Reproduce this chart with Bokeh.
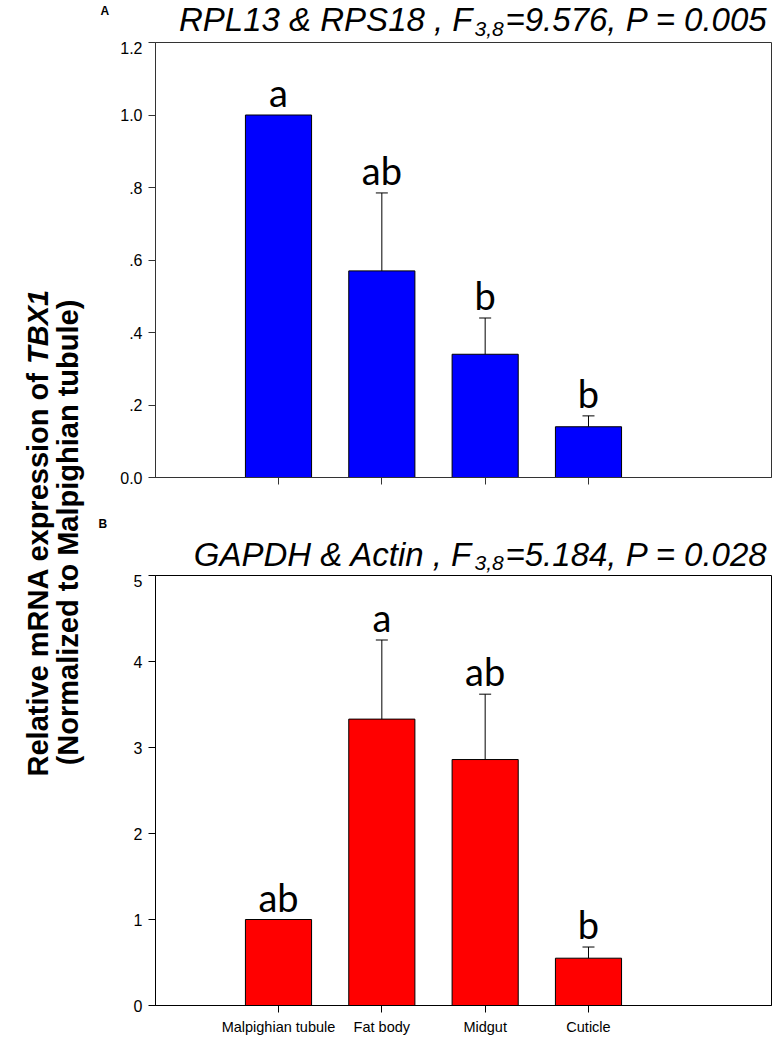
import math
from bokeh.plotting import figure
from bokeh.layouts import row, column
from bokeh.models import Range1d, FixedTicker, Whisker, TeeHead, ColumnDataSource
from bokeh.core.properties import value
from bokeh.embed import file_html
from bokeh.resources import INLINE

# ---------------- data ----------------
categories = ["Malpighian tubule", "Fat body", "Midgut", "Cuticle"]
positions = [1, 2, 3, 4]

a_mean = [1.0, 0.57, 0.34, 0.14]
a_se = [0.0, 0.215, 0.10, 0.03]
a_letters = ["a", "ab", "b", "b"]
a_yticks = [0.0, 0.2, 0.4, 0.6, 0.8, 1.0, 1.2]
a_ylabels = ["0.0", ".2", ".4", ".6", ".8", "1.0", "1.2"]

b_mean = [1.0, 3.33, 2.86, 0.55]
b_se = [0.0, 0.92, 0.76, 0.13]
b_letters = ["ab", "a", "ab", "b"]
b_yticks = [0, 1, 2, 3, 4, 5]
b_ylabels = ["0", "1", "2", "3", "4", "5"]

# ---------------- layout constants (page pixels) ----------------
TOTAL_W = 776
TOTAL_H = 1040
LABEL_W = 112
PANEL_W = TOTAL_W - LABEL_W
FL, FR = 155, 771
FW = FR - FL
SPACING = 103.33
X0 = 1 - (278 - FL) / SPACING
X1 = X0 + FW / SPACING
BAR_W = 0.64
ARIAL = "Liberation Sans"


def make_panel(means, ses, letters, color, ymax, yticks, ylabels, height,
               btop, bbottom, show_x, axis_color):
    p = figure(width=PANEL_W, height=height,
               x_range=Range1d(X0, X1), y_range=Range1d(0, ymax),
               min_border_left=FL - LABEL_W, min_border_right=TOTAL_W - FR,
               min_border_top=btop, min_border_bottom=bbottom,
               toolbar_location=None, output_backend="svg")
    p.xgrid.visible = False
    p.ygrid.visible = False
    p.outline_line_color = axis_color
    p.outline_line_width = 1

    src = ColumnDataSource(dict(x=positions, top=means))
    p.vbar(x="x", top="top", width=BAR_W, source=src,
           fill_color=color, line_color="black", line_width=1)

    wx, wl, wu = [], [], []
    for x, m, s in zip(positions, means, ses):
        if s > 0:
            wx.append(x); wl.append(m); wu.append(m + s)
    wsrc = ColumnDataSource(dict(x=wx, lower=wl, upper=wu))
    p.add_layout(Whisker(base="x", lower="lower", upper="upper", source=wsrc,
                         line_color="black", line_width=1,
                         upper_head=TeeHead(size=12, line_color="black", line_width=1),
                         lower_head=None, level="glyph"))

    tops = [m + s for m, s in zip(means, ses)]
    tsrc = ColumnDataSource(dict(x=positions, y=tops, t=letters))
    p.text(x="x", y="y", text="t", source=tsrc, text_font=value("Lato"),
           text_font_size="38px", text_align="center", text_baseline="bottom",
           text_color="black")

    for ax in (p.xaxis[0], p.yaxis[0]):
        ax.axis_line_color = axis_color
        ax.axis_line_width = 1
        ax.major_tick_line_color = axis_color
        ax.major_tick_in = 0
        ax.major_tick_out = 7
        ax.minor_tick_line_color = None
        ax.major_label_text_font = ARIAL
        ax.major_label_text_color = "black"

    p.yaxis.ticker = FixedTicker(ticks=yticks)
    p.yaxis.major_label_overrides = {t: l for t, l in zip(yticks, ylabels)}
    p.yaxis.major_label_text_font_size = "16px"
    p.yaxis.major_label_standoff = 6

    p.xaxis.ticker = FixedTicker(ticks=positions)
    if show_x:
        p.xaxis.major_label_overrides = {x: c for x, c in zip(positions, categories)}
        p.xaxis.major_label_text_font_size = "14.5px"
        p.xaxis.major_label_standoff = 6
    else:
        p.xaxis.major_label_overrides = {x: "" for x in positions}
        p.xaxis.major_label_text_font_size = "10px"
        p.xaxis.major_label_standoff = 0
    return p


def make_title(top, height, part1, part3, cy, sub_cy):
    # frame spans page x FL..FR, data x = page x; data y = page y - top
    t = figure(width=PANEL_W, height=height,
               x_range=Range1d(FL, FR), y_range=Range1d(height, 0),
               x_axis_type=None, y_axis_type=None,
               min_border_left=FL - LABEL_W, min_border_right=TOTAL_W - FR,
               min_border_top=0, min_border_bottom=0,
               toolbar_location=None, output_backend="svg")
    t.outline_line_color = None
    t.xgrid.visible = False
    t.ygrid.visible = False
    common = dict(text_font=value(ARIAL), text_font_style="italic",
                  text_baseline="middle", text_color="black")
    t.text(x=[472], y=[cy - top], text=[part1], text_align="right",
           text_font_size="33px", **common)
    t.text(x=[474], y=[sub_cy - top], text=["3,8"], text_align="left",
           text_font_size="21px", **common)
    t.text(x=[505], y=[cy - top], text=[part3], text_align="left",
           text_font_size="33px", **common)
    return t


# vertical stack (page px): titleA 0-41, panelA 41-500 (frame 42-477),
# titleB 500-574, panelB 574-1040 (frame 575-1005)
tA = make_title(0, 41, "RPL13 & RPS18 , F", "=9.576, P = 0.005", 18.5, 28.5)
pA = make_panel(a_mean, a_se, a_letters, "#0000FF", 1.2, a_yticks, a_ylabels,
                459, 1, 23, False, "#333333")
tB = make_title(500, 74, "GAPDH & Actin , F", "=5.184, P = 0.028", 554, 562)
pB = make_panel(b_mean, b_se, b_letters, "#FF0000", 5.0, b_yticks, b_ylabels,
                466, 1, 35, True, "black")

# Shared y-axis title and panel letters (data = page px, y measured from bottom)
H = TOTAL_H
pL = figure(width=LABEL_W, height=H, x_range=Range1d(0, LABEL_W), y_range=Range1d(0, H),
            x_axis_type=None, y_axis_type=None, min_border=0,
            toolbar_location=None, output_backend="svg")
pL.outline_line_color = None
pL.xgrid.visible = False
pL.ygrid.visible = False
FS = 29
start = H - 776
pL.text(x=[37], y=[start], text=["Relative mRNA expression of"], angle=math.pi / 2,
        text_font=value(ARIAL), text_font_style="bold", text_font_size=f"{FS}px",
        text_align="left", text_baseline="middle", text_color="black")
pL.text(x=[37], y=[start + 14.226 * FS], text=["TBX1"], angle=math.pi / 2,
        text_font=value(ARIAL), text_font_style="bold italic", text_font_size=f"{FS}px",
        text_align="left", text_baseline="middle", text_color="black")
pL.text(x=[67], y=[H - 532], text=["(Normalized to Malpighian tubule)"], angle=math.pi / 2,
        text_font=value(ARIAL), text_font_style="bold", text_font_size=f"{FS}px",
        text_align="center", text_baseline="middle", text_color="black")
pL.text(x=[100, 98], y=[H - 10, H - 523], text=["A", "B"],
        text_font=value(ARIAL), text_font_style="bold", text_font_size="12px",
        text_align="left", text_baseline="middle", text_color="black")

layout = row(pL, column(tA, pA, tB, pB))
open("out.html", "w").write(file_html(layout, INLINE))
